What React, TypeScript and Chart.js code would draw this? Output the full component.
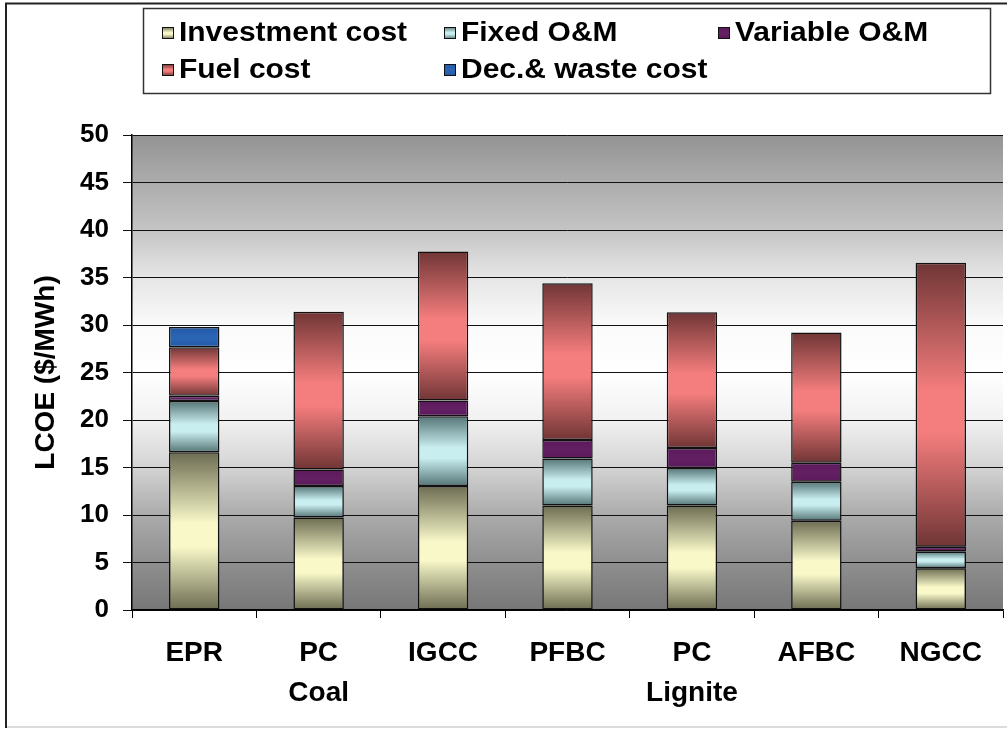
import { useEffect, useRef } from 'react';
import { Chart, registerables } from 'chart.js';

Chart.register(...registerables);

// Technologies (multi-line category labels)
const categories: string[][] = [['EPR'], ['PC', 'Coal'], ['IGCC'], ['PFBC'], ['PC', 'Lignite'], ['AFBC'], ['NGCC']];

// Cost components, $/MWh
const seriesNames = ['Investment cost', 'Fixed O&M', 'Variable O&M', 'Fuel cost', 'Dec.& waste cost'];
const investmentCost = [16.6, 9.75, 13.05, 11.0, 11.0, 9.4, 4.4];
const fixedOM = [5.4, 3.3, 7.35, 4.95, 3.95, 4.1, 1.75];
const variableOM = [0.55, 1.75, 1.65, 1.95, 2.1, 2.0, 0.5];
const fuelCost = [5.1, 16.6, 15.7, 16.5, 14.3, 13.7, 29.9];
const decWasteCost = [2.15, null, null, null, null, null, null];

const Y_MIN = 0;
const Y_MAX = 50;
const Y_STEP = 5;

const FONT = '"Liberation Sans", Arial, sans-serif';

// edge / centre colour of each segment's shading
const SHADES = [
  { dark: '#6c6c52', light: '#f8f8c9' },
  { dark: '#557576', light: '#c9eef0' },
  { dark: '#5a1a5a', light: '#621f62' },
  { dark: '#703535', light: '#f47d7d' },
  { dark: '#2459a6', light: '#2a64b4' },
];

function shadeGradient(c: CanvasRenderingContext2D, top: number, bottom: number, s: { dark: string; light: string }) {
  const g = c.createLinearGradient(0, top, 0, bottom);
  g.addColorStop(0, s.dark);
  g.addColorStop(0.45, s.light);
  g.addColorStop(0.6, s.light);
  g.addColorStop(1, s.dark);
  return g;
}

function segmentFill(ctx: any, s: { dark: string; light: string }) {
  const chart = ctx.chart;
  if (!chart.chartArea || ctx.type !== 'data') return s.light;
  const y = chart.scales.y;
  const i = ctx.dataIndex;
  let base = 0;
  for (let d = 0; d < ctx.datasetIndex; d++) base += chart.data.datasets[d].data[i] ?? 0;
  const v = chart.data.datasets[ctx.datasetIndex].data[i] ?? 0;
  const top = y.getPixelForValue(base + v);
  const bottom = y.getPixelForValue(base);
  if (!(bottom > top)) return s.light;
  return shadeGradient(chart.ctx, top, bottom, s);
}

// plot-area backdrop and outer frame
const backdrop = {
  id: 'backdrop',
  beforeDraw(chart: any) {
    const { ctx, chartArea: a, width, height } = chart;
    ctx.save();
    const g = ctx.createLinearGradient(0, a.top, 0, a.bottom);
    g.addColorStop(0, '#949494');
    g.addColorStop(0.2, '#c4c4c4');
    g.addColorStop(0.3, '#e6e6e6');
    g.addColorStop(0.4, '#fafafa');
    g.addColorStop(0.5, '#ffffff');
    g.addColorStop(0.6, '#f1f1f1');
    g.addColorStop(0.7, '#d3d3d3');
    g.addColorStop(0.8, '#ababab');
    g.addColorStop(0.9, '#8f8f8f');
    g.addColorStop(1, '#777777');
    ctx.fillStyle = g;
    ctx.fillRect(a.left, a.top, a.right - a.left, a.bottom - a.top);

    ctx.lineWidth = 2;
    ctx.strokeStyle = '#dcdcdc';
    ctx.beginPath();
    ctx.moveTo(6, height - 2);
    ctx.lineTo(width, height - 2);
    ctx.stroke();
    ctx.strokeStyle = '#222';
    ctx.beginPath();
    ctx.moveTo(6, height - 1);
    ctx.lineTo(6, 3.5);
    ctx.lineTo(width, 3.5);
    ctx.stroke();
    ctx.restore();
  },
};

// boxed legend in a fixed three-column grid
const boxLegend = {
  id: 'boxLegend',
  afterDraw(chart: any) {
    const { ctx } = chart;
    const slots = [
      [179, 32],
      [461, 32],
      [735, 32],
      [179, 69],
      [461, 69],
    ];
    ctx.save();
    ctx.fillStyle = '#fff';
    ctx.fillRect(143, 8, 848, 86);
    ctx.strokeStyle = '#333';
    ctx.lineWidth = 1.5;
    ctx.strokeRect(143.5, 8.5, 847, 85);
    chart.data.datasets.forEach((ds: any, i: number) => {
      const [x, y] = slots[i];
      const sx = x - 17;
      const sy = y - 5;
      ctx.fillStyle = shadeGradient(ctx, sy, sy + 12, SHADES[i]);
      ctx.fillRect(sx, sy, 12, 12);
      ctx.strokeStyle = '#111';
      ctx.lineWidth = 1;
      ctx.strokeRect(sx + 0.5, sy + 0.5, 11, 11);
      ctx.save();
      ctx.translate(x, y + 1);
      ctx.scale(1.07, 1);
      ctx.fillStyle = '#000';
      ctx.font = `bold 28px ${FONT}`;
      ctx.textBaseline = 'middle';
      ctx.textAlign = 'left';
      ctx.fillText(ds.label, 0, 0);
      ctx.restore();
    });
    ctx.restore();
  },
};

export default function App() {
  const canvasRef = useRef<HTMLCanvasElement>(null);

  useEffect(() => {
    document.body.style.margin = '0';
    const canvas = canvasRef.current;
    if (!canvas) return;
    const series = [investmentCost, fixedOM, variableOM, fuelCost, decWasteCost];
    const chart = new Chart(canvas, {
      type: 'bar',
      data: {
        labels: categories,
        datasets: series.map((data, i) => ({
          label: seriesNames[i],
          data,
          backgroundColor: (ctx: any) => segmentFill(ctx, SHADES[i]),
          borderColor: '#111',
          borderWidth: 1.5,
          borderSkipped: false,
          categoryPercentage: 1,
          barPercentage: 0.405,
        })),
      },
      options: {
        animation: false,
        responsive: false,
        devicePixelRatio: 1,
        layout: { padding: { top: 135, left: 0, right: 4, bottom: 0 } },
        plugins: {
          legend: { display: false },
          tooltip: { enabled: false },
        },
        scales: {
          x: {
            stacked: true,
            offset: true,
            grid: { offset: true, drawOnChartArea: false, tickLength: 8, color: '#000', lineWidth: 1 },
            border: { color: '#000', width: 1.5 },
            ticks: {
              autoSkip: false,
              maxRotation: 0,
              padding: 15,
              color: '#000',
              font: { family: FONT, size: 28, weight: 'bold', lineHeight: 1.43 },
            },
            afterFit: (s: any) => {
              s.height = 119;
            },
          },
          y: {
            stacked: true,
            min: Y_MIN,
            max: Y_MAX,
            ticks: {
              stepSize: Y_STEP,
              padding: 14,
              color: '#000',
              font: { family: FONT, size: 26, weight: 'bold' },
            },
            grid: { color: '#111', lineWidth: 1, tickLength: 9 },
            border: { color: '#000', width: 1.5 },
            title: {
              display: true,
              text: 'LCOE ($/MWh)',
              color: '#000',
              padding: { top: 29, bottom: 0 },
              font: { family: FONT, size: 28, weight: 'bold' },
            },
            afterFit: (s: any) => {
              s.width = 132;
            },
          },
        },
      },
      plugins: [backdrop, boxLegend],
    } as any);
    return () => chart.destroy();
  }, []);

  return (
    <div style={{ width: 1007, height: 729 }}>
      <canvas ref={canvasRef} width={1007} height={729} style={{ display: 'block' }} />
    </div>
  );
}
